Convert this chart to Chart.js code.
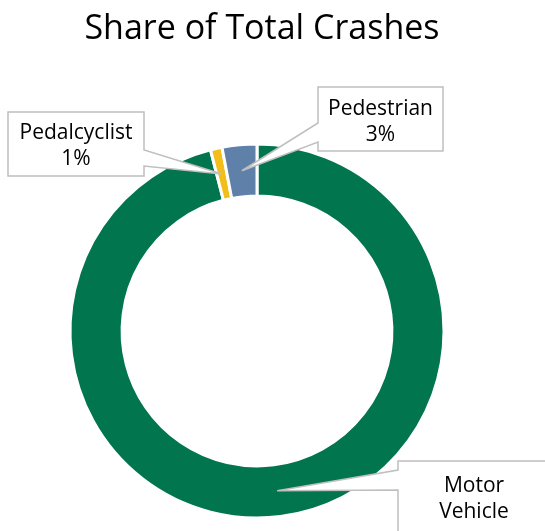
<!DOCTYPE html>
<html>
<head>
<meta charset="utf-8">
<script src="https://cdn.jsdelivr.net/npm/chart.js@4/dist/chart.umd.min.js"></script>
<style>
  html, body { margin: 0; padding: 0; background: #ffffff; }
  #wrap { width: 545px; height: 531px; }
</style>
</head>
<body>
<div id="wrap"><canvas id="crashChart" width="545" height="531"></canvas></div>
<script>
// Crash categories and their share of all crashes (percent)
const categories = ['Motor Vehicle', 'Pedalcyclist', 'Pedestrian'];
const shares = [96, 1, 3];
const labelLines = [['Motor', 'Vehicle'], ['Pedalcyclist'], ['Pedestrian']];
const showShare = [false, true, true];
const sliceColors = ['#00754E', '#F2BE1A', '#5F80A8'];
const chartTitle = 'Share of Total Crashes';

const FONT = '"Open Sans", Lato, sans-serif';

// Callout boxes: rectangle, first text baseline, and where the pointer leaves the box
const callouts = [
  { x: 398, y: 461, w: 152, h: 110, base: 492, side: 'left',  y1: 470, y2: 490 },
  { x: 8,   y: 112, w: 136, h: 64,  base: 139, side: 'right', y1: 150, y2: 166 },
  { x: 318, y: 87,  w: 125, h: 64,  base: 115, side: 'left',  y1: 123, y2: 142 }
];

const titlePlugin = {
  id: 'chartHeading',
  afterDraw(chart) {
    const ctx = chart.ctx;
    ctx.save();
    ctx.fillStyle = '#000000';
    ctx.font = '34px ' + FONT;
    ctx.textAlign = 'center';
    ctx.textBaseline = 'alphabetic';
    ctx.fillText(chartTitle, 262, 39);
    ctx.restore();
  }
};

const calloutPlugin = {
  id: 'sliceCallouts',
  afterDatasetsDraw(chart) {
    const ctx = chart.ctx;
    const meta = chart.getDatasetMeta(0);
    const values = chart.data.datasets[0].data;
    meta.data.forEach((arc, i) => {
      const c = callouts[i];
      const tip = arc.tooltipPosition();
      ctx.save();
      ctx.beginPath();
      if (c.side === 'right') {
        const ex = c.x + c.w;
        ctx.moveTo(c.x, c.y);
        ctx.lineTo(ex, c.y);
        ctx.lineTo(ex, c.y1);
        ctx.lineTo(tip.x, tip.y);
        ctx.lineTo(ex, c.y2);
        ctx.lineTo(ex, c.y + c.h);
        ctx.lineTo(c.x, c.y + c.h);
      } else {
        ctx.moveTo(c.x, c.y);
        ctx.lineTo(c.x + c.w, c.y);
        ctx.lineTo(c.x + c.w, c.y + c.h);
        ctx.lineTo(c.x, c.y + c.h);
        ctx.lineTo(c.x, c.y2);
        ctx.lineTo(tip.x, tip.y);
        ctx.lineTo(c.x, c.y1);
      }
      ctx.closePath();
      ctx.fillStyle = '#ffffff';
      ctx.fill();
      ctx.lineWidth = 1.5;
      ctx.strokeStyle = '#BFBFBF';
      ctx.lineJoin = 'miter';
      ctx.stroke();

      const lines = labelLines[i].slice();
      if (showShare[i]) lines.push(Math.round(values[i]) + '%');
      ctx.fillStyle = '#000000';
      ctx.font = '21px ' + FONT;
      ctx.textAlign = 'center';
      ctx.textBaseline = 'alphabetic';
      const cx = c.x + c.w / 2;
      const lineH = 26;
      lines.forEach((t, k) => ctx.fillText(t, cx, c.base + k * lineH));
      ctx.restore();
    });
  }
};

new Chart(document.getElementById('crashChart'), {
  type: 'doughnut',
  data: {
    labels: categories,
    datasets: [{
      data: shares,
      backgroundColor: sliceColors,
      borderColor: '#ffffff',
      borderWidth: 3,
      radius: 187,
      cutout: 136,
      clip: false
    }]
  },
  options: {
    responsive: false,
    animation: false,
    layout: { padding: { left: 20, right: 51, top: 141, bottom: 10 } },
    plugins: {
      legend: { display: false },
      title: { display: false },
      tooltip: { enabled: false }
    }
  },
  plugins: [titlePlugin, calloutPlugin]
});
</script>
</body>
</html>
